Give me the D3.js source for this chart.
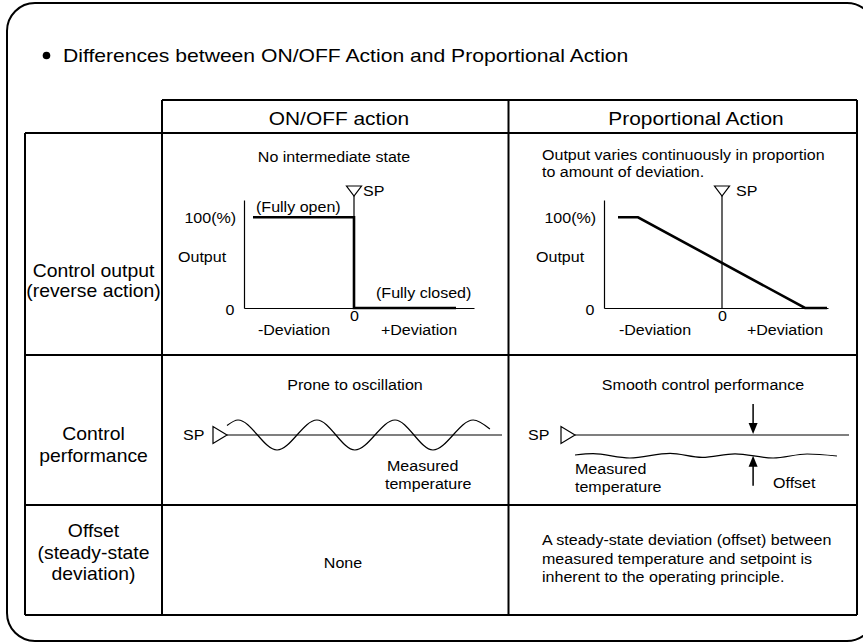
<!DOCTYPE html>
<html><head><meta charset="utf-8">
<script src="https://cdn.jsdelivr.net/npm/d3@7"></script>
<style>
body{margin:0;background:#fff}
svg{display:block;font-family:"Liberation Sans",Arial,Helvetica,sans-serif}
text{fill:#000}
</style>
</head><body>
<svg id="c" width="863" height="643"></svg>
<script>
// ---------------- data ----------------
const title = "Differences between ON/OFF Action and Proportional Action";
const columnHeaders = ["ON/OFF action", "Proportional Action"];
const rowLabels = [["Control output", "(reverse action)"], ["Control", "performance"], ["Offset", "(steady-state", "deviation)"]];
const outputNotes = [["No intermediate state"], ["Output varies continuously in proportion", "to amount of deviation."]];
const performanceNotes = ["Prone to oscillation", "Smooth control performance"];
const offsetNotes = [["None"], ["A steady-state deviation (offset) between", "measured temperature and setpoint is", "inherent to the operating principle."]];
const outputTicks = [0, 100];
const outputTickLabels = ["0", "100(%)"];
const deviationTicks = [0];
const deviationTickLabels = ["0"];
const deviationLabels = ["-Deviation", "+Deviation"];
const onoffStateLabels = ["(Fully open)", "(Fully closed)"];
// ON/OFF control output vs deviation
const onoffDeviation = [-1.01, 0, 0, 1.02];
const onoffOutput = [100, 100, 0, 0];
// proportional control output vs deviation
const propDeviation = [-1.04, -0.84, 0.83, 1.05];
const propOutput = [100, 100, 0, 0];
// ON/OFF measured temperature (relative to SP) over time
const oscTime = [0, 0.4, 1.82, 3.27, 4.65, 6.11, 7.49, 8.95, 9.56];
const oscTemp = [0.63, 1, -1, 1, -1, 1, -1, 1, 0.4];
// proportional measured temperature (relative to SP) over time
const smoothTime = [0, 0.66, 2.0, 3.47, 4.64, 5.84, 7.23, 8.47, 9.56];
const smoothTemp = [-2.0, -1.87, -2.3, -1.83, -2.23, -1.88, -2.3, -1.9, -2.1];
const offsetArrowTime = 6.5;

// ---------------- drawing ----------------
const SX = 1.13;
const svg = d3.select("#c");
const FS = {title: 18.7, head: 18.5, row: 18.8, small: 14.2};

function label(g, s, x, y, size, anchor, sx) {
  return g.append("text")
    .attr("transform", `translate(${x},${y}) scale(${sx || SX},1)`)
    .attr("text-anchor", anchor || "start")
    .style("font-size", size + "px")
    .text(s);
}

// outer rounded frame
svg.append("rect").attr("x", 7).attr("y", 3).attr("width", 868).attr("height", 638)
  .attr("rx", 28).attr("ry", 28).attr("fill", "none").attr("stroke", "#000").attr("stroke-width", 2);

// title
svg.append("circle").attr("cx", 46.5).attr("cy", 55.5).attr("r", 3.8).attr("fill", "#000");
label(svg, title, 63, 62, FS.title);

// table grid
const colX = [25, 162, 508.5, 857];
const rowY = [100, 133, 355, 505, 615];
const grid = svg.append("g").attr("stroke", "#000").attr("stroke-width", 2).attr("fill", "none");
grid.append("line").attr("x1", colX[1]).attr("x2", colX[3]).attr("y1", rowY[0]).attr("y2", rowY[0]);
for (let i = 1; i < rowY.length; i++)
  grid.append("line").attr("x1", colX[0]).attr("x2", colX[3]).attr("y1", rowY[i]).attr("y2", rowY[i]);
colX.forEach((x, i) => grid.append("line").attr("x1", x).attr("x2", x)
  .attr("y1", i === 0 ? rowY[1] : rowY[0]).attr("y2", rowY[4]));

// headers
const headCenters = [339, 696];
columnHeaders.forEach((h, i) => label(svg, h, headCenters[i], 125, FS.head, "middle"));

// row labels
const rowBase = [[277, 297], [440, 462], [537, 558.5, 580]];
rowLabels.forEach((lines, r) => lines.forEach((s, k) => label(svg, s, 93.5, rowBase[r][k], FS.row, "middle", 1.03)));

// ---------- output characteristic mini charts ----------
const yOut = d3.scaleLinear().domain([0, 119]).range([308, 200]);
const panels = [
  {x: d3.scaleLinear().domain([-1.1, 1.2]).range([244, 474]), dev: onoffDeviation, out: onoffOutput,
   devLab: [-0.6, 0.65], outputX: 178},
  {x: d3.scaleLinear().domain([-1.18, 1.06]).range([604, 828]), dev: propDeviation, out: propOutput,
   devLab: [-0.67, 0.63], outputX: 536}
];
panels.forEach((p, i) => {
  const g = svg.append("g");
  const x0 = p.x.range()[0];
  // y axis
  const ay = g.append("g").attr("transform", `translate(${x0},0)`)
    .call(d3.axisLeft(yOut).tickValues(outputTicks).tickFormat((d, k) => outputTickLabels[k])
      .tickSize(0).tickSizeOuter(0).tickPadding(7));
  // x axis
  const ax = g.append("g").attr("transform", `translate(0,${yOut(0)})`)
    .call(d3.axisBottom(p.x).tickValues(deviationTicks).tickFormat((d, k) => deviationTickLabels[k])
      .tickSize(0).tickSizeOuter(0).tickPadding(3));
  [ay, ax].forEach(a => {
    a.attr("font-size", null).attr("font-family", null);
    a.select(".domain").attr("stroke-width", 1.2);
    a.selectAll("text").style("font-size", FS.small + "px").attr("fill", "#000")
      .attr("transform", `scale(${SX},1)`);
  });
  ay.selectAll(".tick text").filter(d => d === 0).attr("dy", "0.45em").attr("x", -8.5);
  ay.selectAll(".tick text").filter(d => d === 100).attr("dy", "0.38em");
  // SP marker
  const sx = p.x(0), top = yOut.range()[1] - 4;
  g.append("line").attr("x1", sx).attr("x2", sx).attr("y1", top).attr("y2", yOut(0))
    .attr("stroke", "#000").attr("stroke-width", 1.2);
  g.append("path").attr("d", `M${sx - 7.5},${top - 10}L${sx + 7.5},${top - 10}L${sx},${top}Z`)
    .attr("fill", "#fff").attr("stroke", "#000").attr("stroke-width", 1.2);
  label(g, "SP", sx + (i === 0 ? 9 : 14), top, FS.small);
  // characteristic
  const pts = p.dev.map((d, k) => [d, p.out[k]]);
  g.append("path").datum(pts)
    .attr("d", d3.line().x(d => p.x(d[0])).y(d => yOut(d[1])))
    .attr("fill", "none").attr("stroke", "#000").attr("stroke-width", 2.6);
  // labels
  label(g, "Output", p.outputX, 262, FS.small);
  deviationLabels.forEach((s, k) => label(g, s, p.x(p.devLab[k]), 335, FS.small, "middle"));
});
// on/off state labels
label(svg, onoffStateLabels[0], 256, 212, FS.small);
label(svg, onoffStateLabels[1], 376, 298, FS.small);
// notes in output row
label(svg, outputNotes[0][0], 334, 162, FS.small, "middle");
outputNotes[1].forEach((s, k) => label(svg, s, 542, 160 + k * 17, FS.small));

// ---------- control performance ----------
const perf = [
  {x: d3.scaleLinear().domain([0, 10]).range([227, 502]), t: oscTime, v: oscTemp, spText: 183, note: 355},
  {x: d3.scaleLinear().domain([0, 10]).range([575, 849]), t: smoothTime, v: smoothTemp, spText: 528, note: 703}
];
const yTemp = d3.scaleLinear().domain([-3, 1]).range([465, 425]);
const yOsc = d3.scaleLinear().domain([-1, 1]).range([450, 420]);
perf.forEach((p, i) => {
  const g = svg.append("g");
  const ys = i === 0 ? yOsc : yTemp;
  const x0 = p.x(0), y0 = ys(0);
  g.append("line").attr("x1", x0).attr("x2", p.x(10)).attr("y1", y0).attr("y2", y0)
    .attr("stroke", "#000").attr("stroke-width", 1.2);
  g.append("path").attr("d", `M${x0 - 14},${y0 - 8.5}L${x0 - 14},${y0 + 8.5}L${x0},${y0}Z`)
    .attr("fill", "#fff").attr("stroke", "#000").attr("stroke-width", 1.2);
  label(g, "SP", p.spText, y0 + 5, FS.small);
  g.append("path").datum(p.t.map((t, k) => [t, p.v[k]]))
    .attr("d", d3.line().x(d => p.x(d[0])).y(d => ys(d[1])).curve(d3.curveMonotoneX))
    .attr("fill", "none").attr("stroke", "#000").attr("stroke-width", 1.2);
  label(g, performanceNotes[i], p.note, 390, FS.small, "middle");
});
label(svg, "Measured", 387, 471, FS.small);
label(svg, "temperature", 385, 489, FS.small);
label(svg, "Measured", 575, 474, FS.small);
label(svg, "temperature", 575, 492, FS.small);
// offset arrows
{
  const p = perf[1];
  const ax = p.x(offsetArrowTime);
  const ySP = yTemp(0) - 1;
  const yPV = yTemp(d3.scaleLinear().domain(smoothTime).range(smoothTemp)(offsetArrowTime));
  const g = svg.append("g");
  g.append("line").attr("x1", ax).attr("x2", ax).attr("y1", ySP - 30).attr("y2", ySP - 9)
    .attr("stroke", "#000").attr("stroke-width", 1.5);
  g.append("path").attr("d", `M${ax - 4.5},${ySP - 11}L${ax + 4.5},${ySP - 11}L${ax},${ySP}Z`).attr("fill", "#000");
  g.append("line").attr("x1", ax).attr("x2", ax).attr("y1", yPV + 9).attr("y2", yPV + 30)
    .attr("stroke", "#000").attr("stroke-width", 1.5);
  g.append("path").attr("d", `M${ax - 4.5},${yPV + 11}L${ax + 4.5},${yPV + 11}L${ax},${yPV}Z`).attr("fill", "#000");
  label(g, "Offset", 773, 488, FS.small);
}

// ---------- offset row ----------
label(svg, offsetNotes[0][0], 343, 568, FS.small, "middle");
offsetNotes[1].forEach((s, k) => label(svg, s, 542, 545 + k * 18.5, FS.small));
</script>
</body></html>
